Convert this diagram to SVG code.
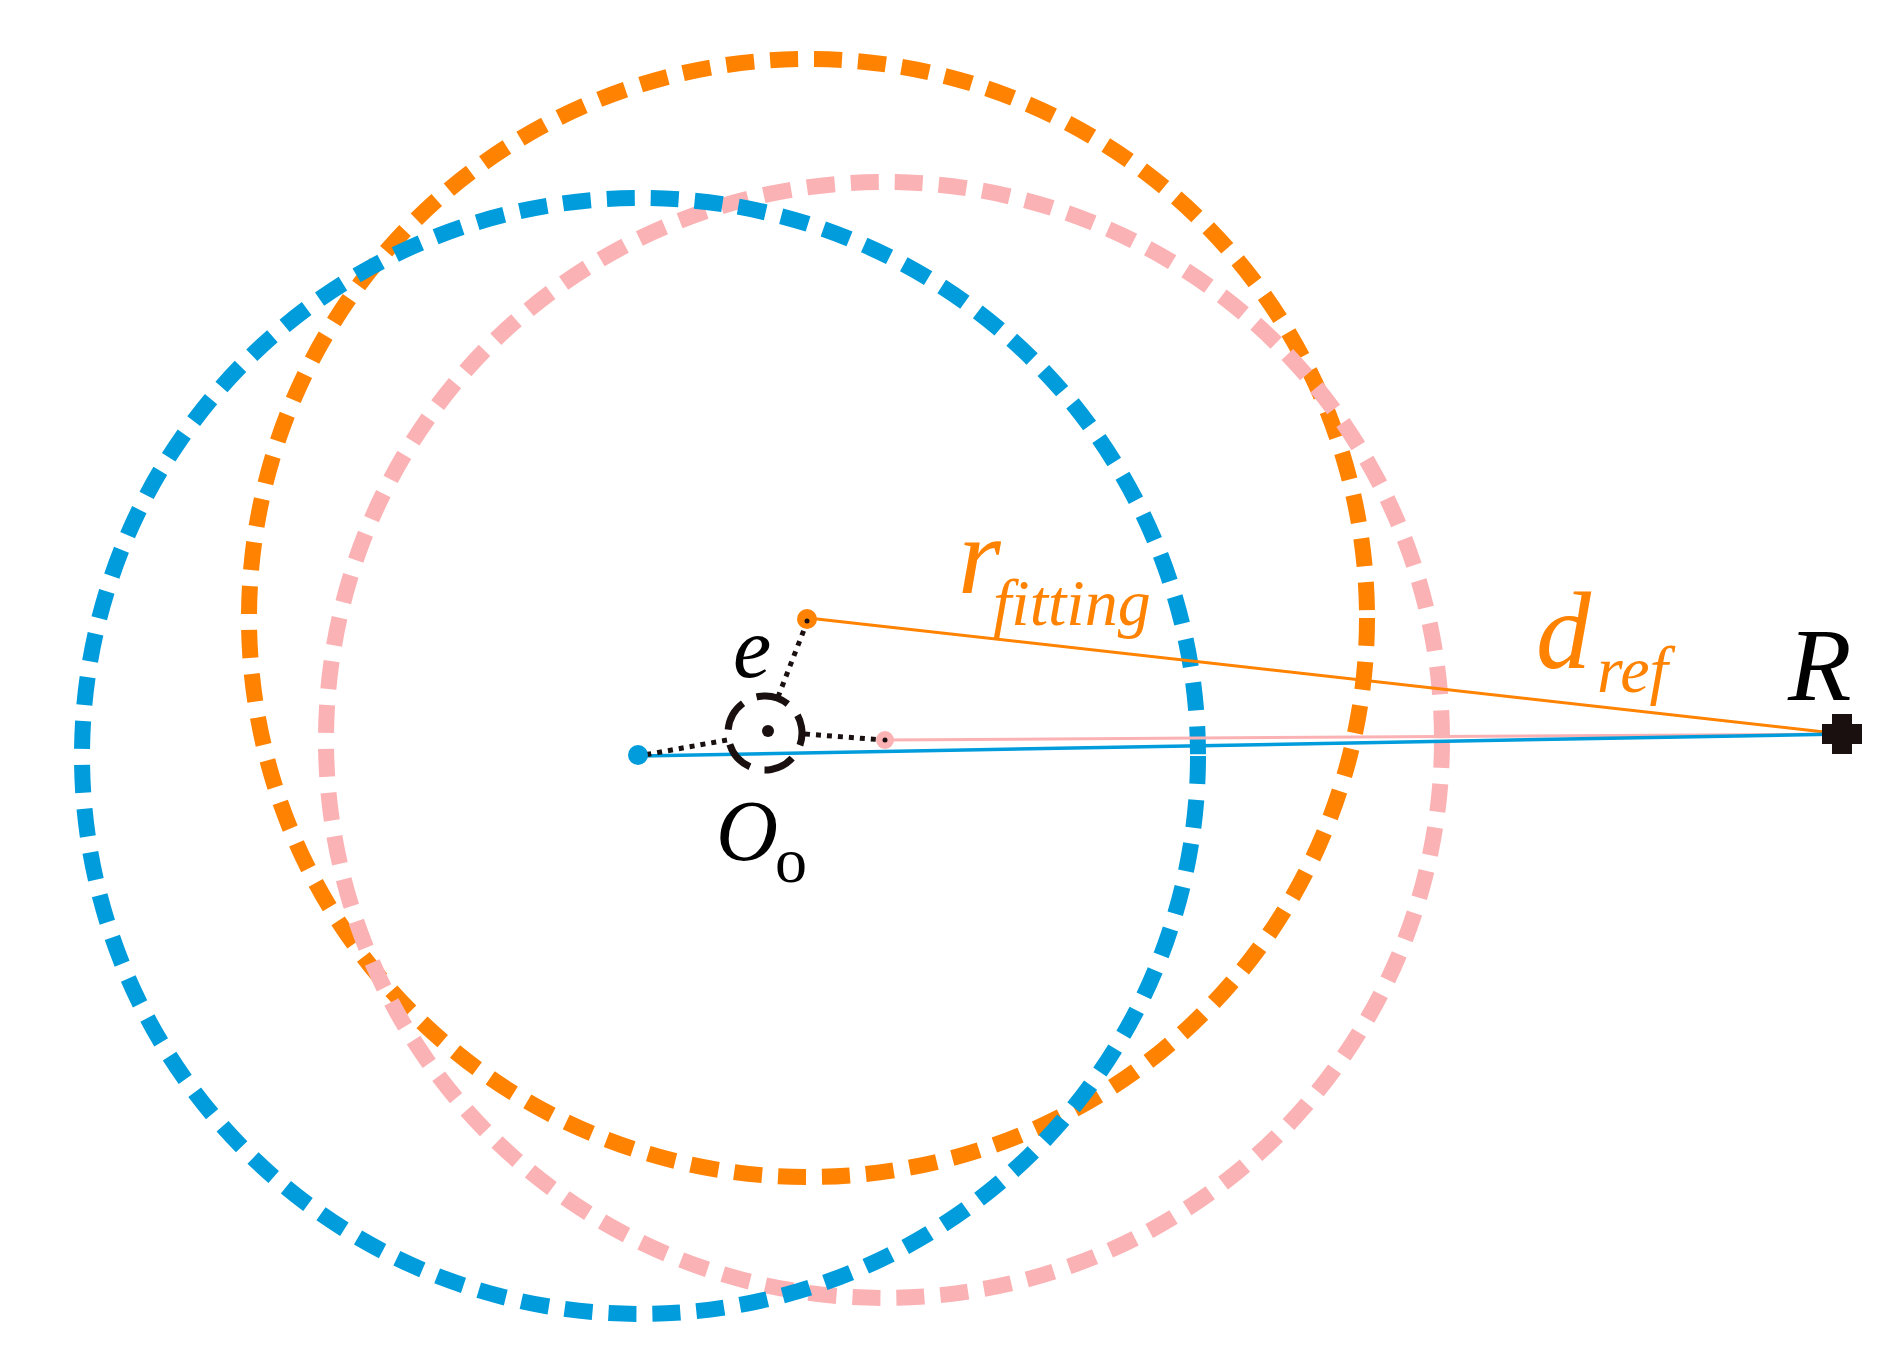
<svg xmlns="http://www.w3.org/2000/svg" width="1892" height="1353" viewBox="0 0 1892 1353">
<style>
.big{fill:none;stroke-width:16;stroke-dasharray:28 16}
.lbl{font-family:"Liberation Serif",serif;font-style:italic}
.dot{stroke:#1a1010;stroke-width:5;stroke-dasharray:5 6;fill:none}
</style>
<rect width="1892" height="1353" fill="#fff"/>
<g id="circle-orange"><circle class="big" cx="808" cy="618" r="559" stroke="#FF8200"/></g>
<g id="circle-pink"><circle class="big" cx="884" cy="740" r="558" stroke="#FBB2B4"/></g>
<g id="circle-blue"><circle class="big" cx="640" cy="756" r="558" stroke="#009CDB"/></g>
<g id="connectors">
<line x1="884" y1="740" x2="1842" y2="734" stroke="#FBB2B4" stroke-width="3"/>
<line x1="808" y1="618" x2="1842" y2="734" stroke="#FF8200" stroke-width="3"/>
<line x1="640" y1="756" x2="1842" y2="734" stroke="#009CDB" stroke-width="3.5"/>
<line class="dot" x1="778" y1="697" x2="807" y2="622"/>
<line class="dot" x1="805" y1="734" x2="884" y2="740"/>
<line class="dot" x1="727" y1="740" x2="644" y2="755"/>
</g>
<g id="point-orange"><circle cx="807" cy="619" r="10" fill="#FF8200"/><circle cx="807" cy="621" r="2.5" fill="#1a1010"/></g>
<g id="point-pink"><circle cx="885" cy="740" r="9" fill="#FBB2B4"/><circle cx="885" cy="740" r="2.5" fill="#1a1010"/></g>
<g id="point-blue"><circle cx="638" cy="755" r="10" fill="#009CDB"/></g>
<g id="origin">
<circle cx="765" cy="733" r="37" fill="none" stroke="#1a1010" stroke-width="7" stroke-dasharray="31 15" transform="rotate(-100 765 733)"/>
<circle cx="768" cy="731" r="6" fill="#1a1010"/>
</g>
<g id="R"><path d="M1832 714h20v10h10v20h-10v10h-20v-10h-10v-20h10z" fill="#1a1010"/>
<text class="lbl" x="1788" y="700" font-size="104" fill="#000">R</text></g>
<g id="labels">
<text class="lbl" x="733" y="677" font-size="86" fill="#000">e</text>
<text x="716" y="860" font-family="Liberation Serif,serif" font-size="86" fill="#000"><tspan font-style="italic">O</tspan><tspan x="775" y="882" font-size="64">o</tspan></text>
<text class="lbl" x="958" y="593" font-size="110" fill="#FF8200">r<tspan x="993" y="625" font-size="66">fitting</tspan></text>
<text class="lbl" x="1536" y="668" font-size="110" fill="#FF8200">d<tspan x="1597" y="692" font-size="66">ref</tspan></text>
</g>
</svg>
